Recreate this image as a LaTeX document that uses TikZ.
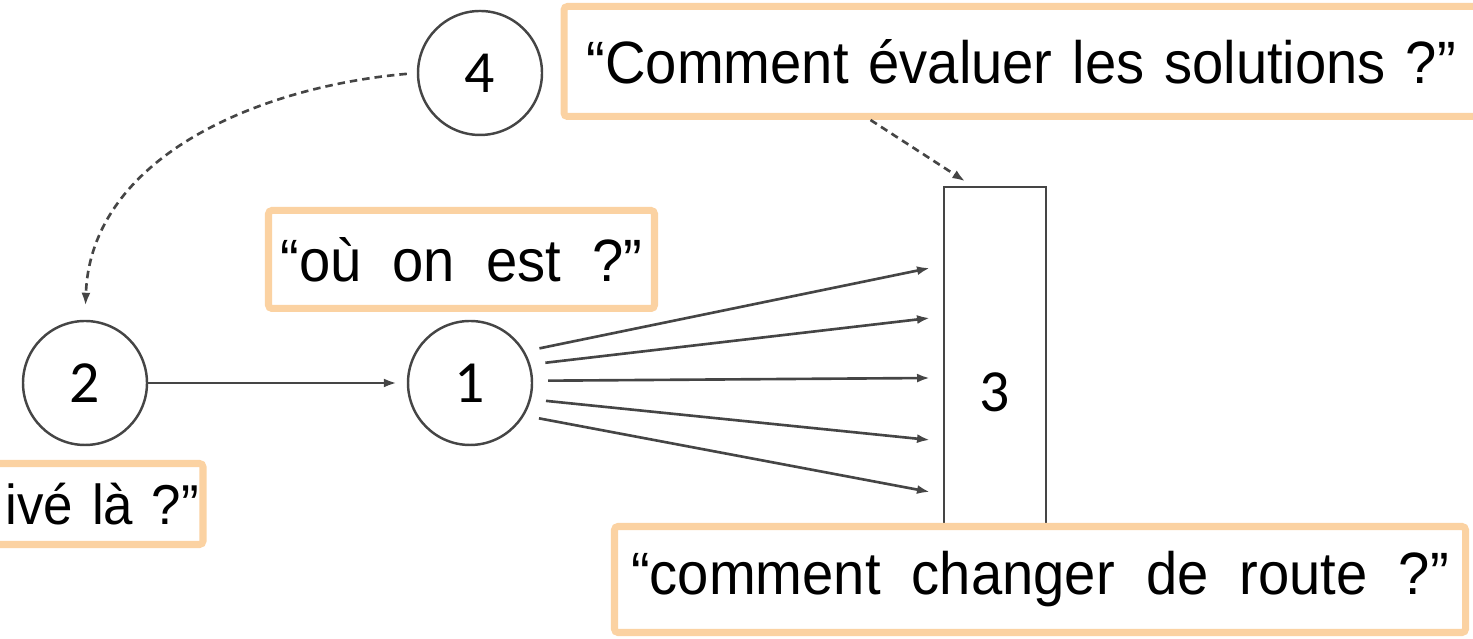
\documentclass[tikz,border=0pt]{standalone}
\usepackage{fontspec}
\setmainfont{Liberation Sans}
\newfontfamily\chiffre{Carlito}
\newfontfamily\question[FakeStretch=0.94,WordSpace=2.0]{Liberation Sans}
\usetikzlibrary{arrows.meta}
\definecolor{peche}{HTML}{FBD2A2}
\definecolor{trait}{HTML}{454545}
\tikzset{
  etat/.style={circle, draw=trait, line width=0.7pt, minimum size=1.24cm, inner sep=0pt, font=\chiffre\fontsize{17}{19}\selectfont},
  cadre/.style={draw=peche, line width=2pt, rounded corners=1pt, fill=white, inner sep=0pt, font=\question\fontsize{17}{20}\selectfont},
  fleche/.style={-{Latex[length=1.3mm,width=0.9mm]}, draw=trait, line width=0.75pt},
  pointille/.style={fleche, dash pattern=on 0.75mm off 0.5mm}
}
\begin{document}
\begin{tikzpicture}
    \useasboundingbox (0,0) rectangle (14.73,6.39);
    \clip (0,0) rectangle (14.73,6.39);

    % Draw the states 1, 2 and 4
    \node[etat] (n4) at (4.80,5.66) {4};
    \node[etat] (n2) at (0.85,2.56) {2};
    \node[etat] (n1) at (4.70,2.56) {1};

    % Draw the bar 3
    \node[draw=trait, line width=0.7pt, minimum width=1.02cm, minimum height=4.1cm, font=\chiffre\fontsize{17}{19}\selectfont] (r3) at (9.95,2.47) {3};

    % Draw the arrows from 1 to 3
    \foreach \y [count=\i] in {3.71,3.21,2.61,1.99,1.47}
        \coordinate (e\i) at (9.30,\y);
    \foreach \a [count=\i] in {30,17,2,-15,-31}
        \draw[fleche, shorten <=0.15cm] (n1.\a) -- (e\i);

    % Draw the arrow from 2 to 1
    \draw[fleche, shorten >=0.1cm] (n2) -- (n1);

    % Draw the dashed return from 4 to 2
    \draw[pointille, shorten <=0.1cm, shorten >=0.14cm] (n4.west) to[out=185,in=88] (n2.north);

    % Draw the questions
    \node[cadre, anchor=west, inner xsep=0.225cm, text width=9.6cm, align=left, minimum height=1.1cm] (qtop) at (5.605,5.775) {“Comment évaluer les solutions ?”};
    \node[cadre, minimum width=3.86cm, minimum height=0.98cm] (qou) at (4.615,3.795) {“où on est ?”};
    \node[cadre, minimum width=8.51cm, minimum height=1.06cm] (qroute) at (10.40,0.595) {“comment changer de route ?”};
    \node[cadre, anchor=east, inner xsep=0.04cm, text width=2.49cm, align=right, minimum height=0.81cm, font=\question\fontsize{16}{19}\selectfont] (qla) at (2.065,1.35) {ivé là ?”};

    % Draw the dashed arrow from the evaluation to 3
    \draw[pointille, shorten >=0.08cm] ([xshift=3.1cm]qtop.south west) -- ([xshift=-0.23cm]r3.north);
\end{tikzpicture}
\end{document}
